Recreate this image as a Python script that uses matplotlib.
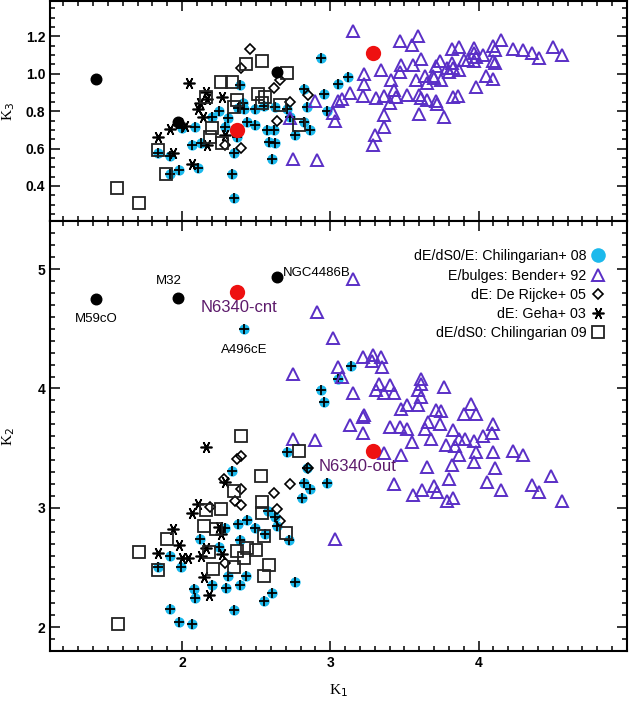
import matplotlib
matplotlib.use("Agg")
import matplotlib.pyplot as plt
from matplotlib.lines import Line2D
from matplotlib.ticker import MultipleLocator

plt.rcParams['font.family'] = ['Liberation Sans', 'DejaVu Sans']

CYAN = '#1cb9ec'
PURPLE = '#5a2fc6'
LABEL_PURPLE = '#5c1a6b'
RED = '#ee1111'

# named objects (black dots)
named = ["M59cO", "M32", "NGC4486B"]
named_k1 = [1.42, 1.97, 2.64]
named_k2 = [4.75, 4.76, 4.93]
named_k3 = [0.97, 0.74, 1.01]

# NGC 6340 centre / outer
n6340 = ["N6340-cnt", "N6340-out"]
n6340_k1 = [2.37, 3.29]
n6340_k2 = [4.81, 3.48]
n6340_k3 = [0.70, 1.11]

# dE/dS0/E: Chilingarian+ 08
chil08_k1_top = [1.84, 1.92, 1.92, 1.98, 2.00, 2.07, 2.13, 2.11, 2.09, 2.20, 2.25, 2.31, 2.29,
                 2.35, 2.34, 2.35, 2.38, 2.39, 2.41, 2.42, 2.49, 2.55, 2.63, 2.71, 2.73, 2.82,
                 2.86, 2.76, 2.49, 2.44, 2.57, 2.62, 2.59, 2.63, 2.61, 2.82, 2.96, 3.05, 3.12,
                 2.84, 2.98, 2.94, 2.37]
chil08_k3 = [0.578, 0.560, 0.464, 0.487, 0.709, 0.619, 0.632, 0.498, 0.714, 0.771, 0.803, 0.766,
             0.714, 0.578, 0.464, 0.334, 0.816, 0.939, 0.843, 0.811, 0.811, 0.828, 0.821, 0.811,
             0.771, 0.744, 0.700, 0.673, 0.727, 0.744, 0.700, 0.700, 0.637, 0.632, 0.543, 0.918,
             0.891, 0.946, 0.982, 0.821, 0.803, 1.084, 0.664]
chil08_k1_bot = [1.84, 1.92, 1.99, 1.92, 1.98, 2.07, 2.08, 2.09, 2.12, 2.20, 2.25, 2.29, 2.30,
                 2.31, 2.34, 2.35, 2.38, 2.39, 2.39, 2.43, 2.44, 2.49, 2.55, 2.56, 2.61, 2.58,
                 2.63, 2.64, 2.72, 2.76, 2.71, 2.82, 2.86, 2.81, 2.84, 2.98, 2.96, 3.14, 3.05,
                 2.94, 2.42]
chil08_k2 = [2.50, 2.60, 2.50, 2.15, 2.04, 2.03, 2.32, 2.24, 2.74, 2.35, 2.67, 2.83, 2.33, 2.43,
             3.31, 2.14, 2.86, 2.73, 2.35, 2.43, 2.90, 2.83, 2.22, 2.78, 2.29, 2.97, 2.92, 2.85,
             2.73, 2.38, 3.47, 3.21, 3.16, 3.08, 3.33, 3.21, 3.89, 4.19, 4.08, 3.99, 4.50]

# E/bulges: Bender+ 92
bender_k1_top = [3.15, 3.47, 3.59, 3.55, 3.82, 3.87, 3.97, 4.10, 4.15, 4.23, 4.30, 4.36, 4.41,
                 4.50, 4.56, 4.11, 3.97, 3.98, 4.03, 3.97, 3.93, 3.90, 3.87, 3.82, 3.83, 3.79,
                 3.80, 3.74, 3.71, 3.75, 3.70, 3.69, 3.64, 3.65, 3.61, 3.56, 3.48, 3.47, 3.41,
                 3.43, 3.44, 3.40, 3.36, 3.31, 3.34, 3.23, 3.23, 3.22, 3.13, 3.08, 3.05, 2.90,
                 3.02, 3.03, 3.36, 3.36, 3.30, 3.29, 3.52, 3.60, 3.61, 3.65, 3.71, 3.72, 3.83,
                 3.86, 3.98, 4.05, 4.10, 4.10, 4.11, 3.60, 3.77, 2.91, 3.58, 2.75, 2.73]
bender_k3 = [1.231, 1.177, 1.204, 1.152, 1.134, 1.143, 1.138, 1.150, 1.179, 1.132, 1.125, 1.111,
             1.087, 1.143, 1.102, 1.129, 1.111, 1.090, 1.102, 1.071, 1.075, 1.075, 1.018, 1.057,
             1.031, 1.031, 1.012, 1.066, 1.043, 0.968, 0.977, 0.989, 0.989, 0.953, 1.079, 1.045,
             1.048, 1.012, 0.968, 0.914, 0.875, 0.846, 0.882, 0.870, 1.018, 1.000, 0.945, 0.882,
             0.897, 0.866, 0.855, 0.857, 0.789, 0.750, 0.780, 0.714, 0.673, 0.619, 0.887, 0.887,
             0.870, 0.861, 0.857, 0.839, 0.878, 0.882, 0.929, 0.986, 0.972, 1.066, 1.057, 0.786,
             0.771, 0.539, 0.968, 0.543, 0.764]
bender_k1_bot = [3.15, 2.91, 3.02, 3.22, 3.29, 3.34, 3.28, 3.35, 3.05, 3.08, 3.15, 3.33, 3.40,
                 3.31, 3.36, 3.43, 3.61, 3.61, 3.59, 3.61, 3.77, 3.48, 3.52, 3.59, 3.23, 3.22,
                 3.13, 3.22, 3.40, 3.47, 3.52, 3.66, 3.71, 3.75, 3.74, 3.64, 3.68, 3.55, 3.83,
                 3.87, 3.91, 3.95, 3.90, 3.98, 4.03, 4.10, 4.09, 3.78, 3.84, 3.97, 3.87, 3.98,
                 4.10, 4.23, 4.30, 2.90, 3.36, 3.48, 3.65, 3.82, 3.97, 4.11, 3.80, 4.06, 4.15,
                 3.43, 3.56, 3.62, 3.70, 3.72, 3.79, 3.83, 4.36, 4.41, 4.49, 4.56, 2.75, 3.03,
                 2.75]
bender_k2 = [4.92, 4.64, 4.42, 4.26, 4.28, 4.26, 4.23, 4.18, 4.18, 4.10, 3.96, 4.04, 4.03, 3.99,
             3.96, 3.96, 4.08, 4.04, 3.99, 3.93, 4.01, 3.83, 3.86, 3.86, 3.78, 3.76, 3.69, 3.63,
             3.68, 3.68, 3.66, 3.72, 3.82, 3.81, 3.70, 3.66, 3.58, 3.55, 3.65, 3.58, 3.58, 3.87,
             3.79, 3.79, 3.60, 3.70, 3.63, 3.53, 3.52, 3.56, 3.44, 3.47, 3.47, 3.48, 3.44, 3.57,
             3.46, 3.44, 3.34, 3.36, 3.38, 3.33, 3.24, 3.22, 3.15, 3.20, 3.11, 3.15, 3.18, 3.13,
             3.06, 3.08, 3.19, 3.13, 3.27, 3.06, 3.58, 2.74, 4.12]

# dE: De Rijcke+ 05
rijcke_k1_top = [2.46, 2.40, 2.62, 2.66, 2.73, 2.85, 2.64, 2.40, 2.29]
rijcke_k3 = [1.132, 1.031, 0.923, 0.968, 0.851, 0.887, 0.748, 0.605, 0.617]
rijcke_k1_bot = [2.37, 2.40, 2.28, 2.40, 2.36, 2.40, 2.19, 2.62, 2.73, 2.64, 2.29, 2.85, 2.66]
rijcke_k2 = [3.41, 3.43, 3.24, 3.16, 3.06, 3.02, 3.01, 3.12, 3.20, 2.99, 2.54, 3.33, 2.89]

# dE: Geha+ 03
geha_k1_top = [2.05, 2.16, 2.27, 1.84, 1.92, 1.94, 2.07, 2.11, 2.14, 2.17, 2.29, 1.98, 2.02,
               2.12, 2.17]
geha_k3 = [0.953, 0.905, 0.878, 0.661, 0.703, 0.575, 0.516, 0.811, 0.768, 0.619, 0.673, 0.736,
           0.721, 0.846, 0.866]
geha_k1_bot = [2.16, 2.29, 2.11, 2.07, 1.94, 1.98, 1.84, 2.00, 2.04, 2.13, 2.16, 2.25, 2.26,
               2.27, 2.15, 2.18]
geha_k2 = [3.51, 3.22, 3.03, 2.96, 2.82, 2.69, 2.62, 2.58, 2.58, 2.60, 2.66, 2.84, 2.78, 2.61,
           2.42, 2.27]

# dE/dS0: Chilingarian 09
chil09_k1_top = [1.56, 1.71, 1.89, 1.84, 2.16, 2.26, 2.34, 2.43, 2.54, 2.71, 2.51, 2.56, 2.54,
                 2.66, 2.79, 2.27, 2.19, 2.20, 2.37, 2.35]
chil09_k3 = [0.387, 0.311, 0.464, 0.590, 0.877, 0.957, 0.957, 1.054, 1.071, 1.002, 0.890, 0.874,
             0.846, 0.831, 0.727, 0.632, 0.661, 0.709, 0.862, 0.825]
chil09_k1_bot = [1.57, 1.71, 1.84, 1.90, 2.15, 2.18, 2.21, 2.16, 2.26, 2.23, 2.35, 2.37, 2.42,
                 2.44, 2.50, 2.53, 2.54, 2.54, 2.55, 2.59, 2.55, 2.35, 2.40, 2.79, 2.70]
chil09_k2 = [2.03, 2.63, 2.48, 2.74, 2.85, 2.63, 2.49, 2.98, 2.99, 2.82, 2.50, 2.64, 2.58, 2.66,
             2.65, 3.27, 3.05, 2.96, 2.76, 2.52, 2.43, 3.14, 3.60, 3.48, 2.79]

legend_labels = ["dE/dS0/E: Chilingarian+ 08", "E/bulges: Bender+ 92", "dE: De Rijcke+ 05",
                 "dE: Geha+ 03", "dE/dS0: Chilingarian 09"]
x_ticks = [2, 3, 4]

fig = plt.figure(figsize=(6.3, 7.05), dpi=100)
ax_top = fig.add_axes([0.0794, 0.686, 0.9156, 0.3126])
ax_bot = fig.add_axes([0.0794, 0.0766, 0.9156, 0.6094])

AST = (6, 2, 30)


def draw_panel(ax, c08, bnd, rij, geh, c09, nam, ngc):
    ax.plot(c08[0], c08[1], 'o', ms=7.4, mfc=CYAN, mec='none', zorder=2)
    ax.plot(c08[0], c08[1], '+', ms=7.6, mew=1.3, color='k', zorder=2.1)
    ax.plot(bnd[0], bnd[1], '^', ms=8, mfc='none', mec=PURPLE, mew=1.4, zorder=3)
    ax.plot(rij[0], rij[1], 'D', ms=5.3, mfc='none', mec='k', mew=1.2, zorder=4)
    ax.plot(geh[0], geh[1], marker=AST, ls='none', ms=8.5, mec='k', mew=1.2, zorder=4)
    ax.plot(c09[0], c09[1], 's', ms=8, mfc='none', mec='#222222', mew=1.3, zorder=4)
    ax.plot(nam[0], nam[1], 'o', ms=7.6, color='k', zorder=5)
    ax.plot(ngc[0], ngc[1], 'o', ms=11, color=RED, mec='none', zorder=6)


def style(ax):
    for s in ax.spines.values():
        s.set_linewidth(1.5)
    ax.tick_params(which='both', direction='in', top=True, right=True, width=1.1,
                   labelsize=10)
    ax.tick_params(which='major', length=7)
    ax.tick_params(which='minor', length=3.5)
    ax.set_xticks(x_ticks)
    ax.xaxis.set_minor_locator(MultipleLocator(0.1))
    ax.set_xlim(1.11, 5.0)


draw_panel(ax_top, (chil08_k1_top, chil08_k3), (bender_k1_top, bender_k3),
           (rijcke_k1_top, rijcke_k3), (geha_k1_top, geha_k3), (chil09_k1_top, chil09_k3),
           (named_k1, named_k3), (n6340_k1, n6340_k3))
draw_panel(ax_bot, (chil08_k1_bot, chil08_k2), (bender_k1_bot, bender_k2),
           (rijcke_k1_bot, rijcke_k2), (geha_k1_bot, geha_k2), (chil09_k1_bot, chil09_k2),
           (named_k1, named_k2), (n6340_k1, n6340_k2))

style(ax_top)
ax_top.set_ylim(0.21, 1.39)
ax_top.yaxis.set_major_locator(MultipleLocator(0.2))
ax_top.yaxis.set_minor_locator(MultipleLocator(0.05))
ax_top.tick_params(labelbottom=False)

style(ax_bot)
ax_bot.set_ylim(1.8, 5.4)
ax_bot.yaxis.set_major_locator(MultipleLocator(1))
ax_bot.yaxis.set_minor_locator(MultipleLocator(0.1))

for lab in ax_top.get_yticklabels() + ax_bot.get_yticklabels() + ax_bot.get_xticklabels():
    lab.set_fontweight('bold')

serif = ['Liberation Serif', 'DejaVu Serif']
ax_top.set_ylabel(r'K$_{\rm 3}$', family=serif, fontsize=11)
ax_top.yaxis.set_label_coords(-0.058, 0.5)
ax_bot.set_ylabel(r'K$_{\rm 2}$', family=serif, fontsize=11)
ax_bot.yaxis.set_label_coords(-0.058, 0.5)
ax_bot.set_xlabel(r'K$_{\rm 1}$', family=serif, fontsize=11)
ax_bot.xaxis.set_label_coords(0.5, -0.072)

# object labels
offsets = {"M59cO": (0, -14.5, 'center'), "M32": (-6, 12, 'center'),
           "NGC4486B": (4, 3.5, 'left')}
for name, x, y in zip(named, named_k1, named_k2):
    dx, dy, ha = offsets[name]
    ax_bot.annotate(name, (x, y), xytext=(dx, dy), textcoords='offset points',
                    ha=ha, va='center', fontsize=9.5)
ax_bot.annotate("A496cE", (chil08_k1_bot[-1], chil08_k2[-1]), xytext=(0, -15),
                textcoords='offset points', ha='center', va='center', fontsize=9.5)
n_off = {"N6340-cnt": (1.5, -11.5), "N6340-out": (-11, -11.5)}
for name, x, y in zip(n6340, n6340_k1, n6340_k2):
    ax_bot.annotate(name, (x, y), xytext=n_off[name], textcoords='offset points',
                    ha='center', va='center', fontsize=12, color=LABEL_PURPLE)

handles = [
    Line2D([], [], ls='none', marker='o', ms=10.5, mfc=CYAN, mec='none'),
    Line2D([], [], ls='none', marker='^', ms=8, mfc='none', mec=PURPLE, mew=1.4),
    Line2D([], [], ls='none', marker='D', ms=5.5, mfc='none', mec='k', mew=1.2),
    Line2D([], [], ls='none', marker=AST, ms=8.5, mec='k', mew=1.2),
    Line2D([], [], ls='none', marker='s', ms=8, mfc='none', mec='#222222', mew=1.3),
]
ax_bot.legend(handles, legend_labels, loc='upper right', bbox_to_anchor=(0.963, 0.935),
              markerfirst=False, frameon=False, fontsize=10.3, handlelength=1.0,
              handletextpad=0.35, labelspacing=0.37, borderaxespad=0, borderpad=0)

fig.savefig('out.png', dpi=100)
